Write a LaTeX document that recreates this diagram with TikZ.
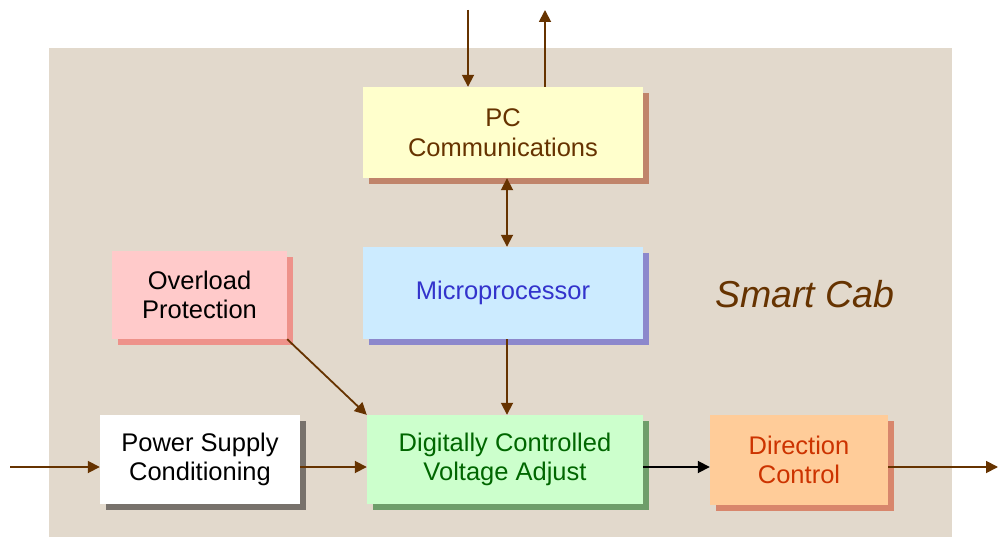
\documentclass[tikz,border=0pt]{standalone}
\usepackage{fontspec}
\setmainfont{Liberation Sans}
\usetikzlibrary{arrows.meta,shadows}
\definecolor{paper}{HTML}{E2D9CC}
\definecolor{wire}{HTML}{663300}
\definecolor{pcfill}{HTML}{FFFFCC}
\definecolor{pcshade}{HTML}{C0846A}
\definecolor{mpfill}{HTML}{CCEBFF}
\definecolor{mptext}{HTML}{3333CC}
\definecolor{mpshade}{HTML}{8C88CC}
\definecolor{ovlfill}{HTML}{FFCACA}
\definecolor{ovlshade}{HTML}{EE928A}
\definecolor{pscshade}{HTML}{78726C}
\definecolor{dcvafill}{HTML}{CCFFCC}
\definecolor{dcvatext}{HTML}{006600}
\definecolor{dcvashade}{HTML}{6E9E6A}
\definecolor{dirfill}{HTML}{FFCC99}
\definecolor{dirtext}{HTML}{CC3300}
\definecolor{dirshade}{HTML}{D8866C}
\begin{document}
\begin{tikzpicture}[x=1pt,y=-1pt,line join=round,
  blk/.style={inner sep=0pt,align=center,font=\fontsize{25.5}{29.5}\selectfont},
  shd/.style={drop shadow={shadow xshift=6pt,shadow yshift=-6pt,fill=#1,opacity=1}},
  link/.style={draw=wire,line width=1.8pt,-{Triangle[length=12pt,width=12pt]}}]
  \useasboundingbox (0,0) rectangle (998,537);
  \fill[paper] (49,48) rectangle (952,537);
  \node[blk,fill=pcfill,text=wire,shd=pcshade,minimum width=280pt,minimum height=91pt] (pc) at (503,132.5) {PC\\Communications};
  \node[blk,fill=mpfill,text=mptext,shd=mpshade,minimum width=280pt,minimum height=92pt] (mp) at (503,293) {Microprocessor};
  \node[blk,fill=ovlfill,text=black,shd=ovlshade,minimum width=175pt,minimum height=88pt] (ovl) at (199.5,295) {Overload\\Protection};
  \node[blk,fill=white,text=black,shd=pscshade,minimum width=200pt,minimum height=89pt] (psc) at (200,459.5) {Power Supply\\Conditioning};
  \node[blk,fill=dcvafill,text=dcvatext,shd=dcvashade,minimum width=276pt,minimum height=89pt] (dcva) at (505,459.5) {Digitally Controlled\\Voltage Adjust};
  \node[blk,fill=dirfill,text=dirtext,shd=dirshade,minimum width=178pt,minimum height=90pt] (dir) at (799,460) {Direction\\Control};
  \node[anchor=base west,inner sep=0pt,text=wire,font=\fontsize{37.5}{44}\selectfont\itshape] (cab) at (715,307) {Smart Cab};
  \coordinate (pcin) at (468,10);
  \coordinate (pcout) at (545,10);
  \coordinate (spine) at (507,0);
  \coordinate (in) at (10,467);
  \coordinate (out) at (998,467);
  \draw[link] (pcin) -- (pcin |- pc.north);
  \draw[link] (pcout |- pc.north) -- (pcout);
  \draw[link,{Triangle[length=12pt,width=12pt]}-{Triangle[length=12pt,width=12pt]}] (spine |- pc.south) -- (spine |- mp.north);
  \draw[link] (spine |- mp.south) -- (spine |- dcva.north);
  \draw[link] (ovl.south east) -- (dcva.north west);
  \draw[link] (in) -- (in -| psc.west);
  \draw[link] (in -| psc.east) -- (in -| dcva.west);
  \draw[link,draw=black] (in -| dcva.east) -- (in -| dir.west);
  \draw[link] (in -| dir.east) -- (out);
\end{tikzpicture}
\end{document}
